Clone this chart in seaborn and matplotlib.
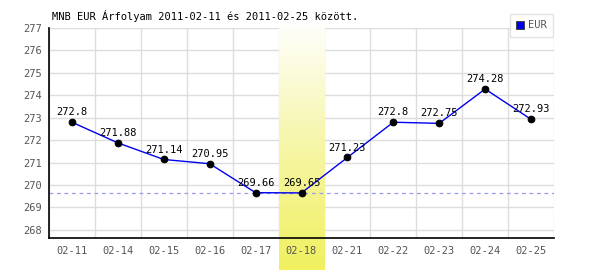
import numpy as np
import pandas as pd
import matplotlib
matplotlib.use("Agg")
import matplotlib.pyplot as plt
import seaborn as sns
from matplotlib.colors import LinearSegmentedColormap
from matplotlib.lines import Line2D

dates = ["02-11", "02-14", "02-15", "02-16", "02-17", "02-18",
         "02-21", "02-22", "02-23", "02-24", "02-25"]
eur = [272.8, 271.88, 271.14, 270.95, 269.66, 269.65,
       271.23, 272.8, 272.75, 274.28, 272.93]
value_labels = ["272.8", "271.88", "271.14", "270.95", "269.66", "269.65",
                "271.23", "272.8", "272.75", "274.28", "272.93"]
y_ticks = [268, 269, 270, 271, 272, 273, 274, 275, 276, 277]
highlight = "02-18"
title = "MNB EUR Árfolyam 2011-02-11 és 2011-02-25 között."

sns.set_theme(style="white")
plt.rcParams["font.family"] = ["DejaVu Sans Mono", "DejaVu Sans"]

df = pd.DataFrame({"pos": np.arange(len(dates)), "date": dates, "eur": eur})

fig = plt.figure(figsize=(6, 2.7), dpi=100, facecolor="white")
ax = fig.add_axes([49/600, 1-238/270, 505/600, 210/270])
ax.set_facecolor("white")
ymin, ymax = 267.64, 277.0
ax.set_xlim(-0.5, len(dates) - 0.5)
ax.set_ylim(ymin, ymax)
ax.set_autoscale_on(False)
ppu = 210 / (ymax - ymin)

# grid
for yv in y_ticks:
    ax.axhline(yv, color="#dddddd", lw=1, zorder=0)
for i in range(len(dates) + 1):
    ax.axvline(i - 0.5, color="#dddddd", lw=1, zorder=0)

# highlight band (gradient), extends below the axes
hi = dates.index(highlight)
cmap = LinearSegmentedColormap.from_list("hl", ["#f0f060", "#f6f6a8", "#ffffff"])
grad = np.linspace(0, 1, 256).reshape(-1, 1)
im = ax.imshow(grad, aspect="auto", cmap=cmap, origin="lower",
               extent=[hi - 0.5, hi + 0.5, ymin - 32/ppu, ymax + 8/ppu],
               zorder=0.5, clip_on=False, interpolation="bilinear")
ax.set_xlim(-0.5, len(dates) - 0.5)
ax.set_ylim(ymin, ymax)

# min dashed line
ax.axhline(min(eur), color="#9999ee", lw=0.9, ls=(0, (3, 3)), zorder=1)

sns.lineplot(data=df, x="pos", y="eur", ax=ax, color="#0000ee", lw=1,
             marker="o", markersize=4.8, markerfacecolor="black",
             markeredgecolor="black", zorder=3, legend=False)

for i, (v, lab) in enumerate(zip(eur, value_labels)):
    ax.annotate(lab, (i, v), xytext=(0, 3.5), textcoords="offset points",
                ha="center", va="bottom", fontsize=7.5, color="black", zorder=4)

ax.set_xticks(range(len(dates)))
ax.set_xticklabels(dates)
ax.set_yticks(y_ticks)
ax.set_yticklabels([str(t) for t in y_ticks])
ax.tick_params(axis="both", length=0, labelsize=7.5, labelcolor="#555555")
ax.tick_params(axis="x", pad=6)
ax.tick_params(axis="y", pad=5)
ax.set_xlabel("")
ax.set_ylabel("")
for s in ["top", "right"]:
    ax.spines[s].set_visible(False)
for s in ["left", "bottom"]:
    ax.spines[s].set_color("black")
    ax.spines[s].set_linewidth(1.2)
    ax.spines[s].set_zorder(5)

fig.text(52/600, 1 - 16/270, title, fontsize=7.5, color="black",
         ha="left", va="center")

handle = Line2D([], [], marker="s", color="none", markerfacecolor="#0000ee",
                markeredgecolor="#444444", markersize=5.5, markeredgewidth=0.7)
leg = fig.legend([handle], ["EUR"], loc="upper right",
                 bbox_to_anchor=(553/600, 1 - 14/270), frameon=True,
                 fancybox=False, fontsize=7.5, handlelength=0.8,
                 handletextpad=0.35, borderpad=0.6, borderaxespad=0)
leg.get_frame().set_edgecolor("#dddddd")
leg.get_frame().set_linewidth(1)
leg.set_zorder(10)
for t in leg.get_texts():
    t.set_color("#555555")

fig.savefig("out.png", dpi=100, facecolor="white")
